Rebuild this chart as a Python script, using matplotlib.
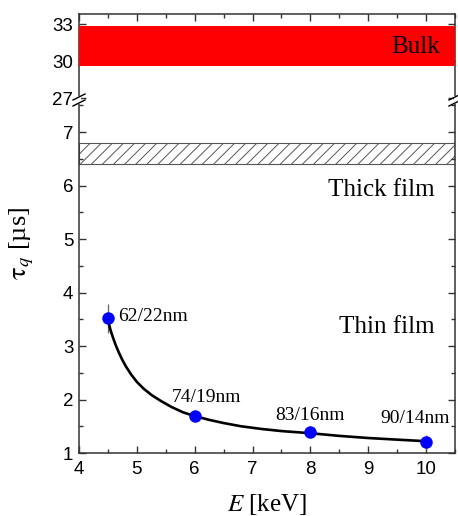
import matplotlib
matplotlib.use("Agg")
import matplotlib.pyplot as plt
from matplotlib.ticker import MultipleLocator, FixedLocator
from matplotlib.lines import Line2D
from matplotlib.patches import Rectangle

plt.rcParams["mathtext.fontset"] = "stix"
plt.rcParams["hatch.color"] = "#555555"
plt.rcParams["hatch.linewidth"] = 0.7

# ---- data ----
energy = [4.5, 6.0, 8.0, 10.0]
tau = [3.52, 1.69, 1.39, 1.20]
tau_err = [0.27, 0.05, 0.05, 0.14]
point_labels = ["62/22nm", "74/19nm", "83/16nm", "90/14nm"]
label_pos_x = [4.68, 5.60, 7.39, 9.21]
label_pos_y = [3.55, 2.04, 1.71, 1.65]

fit_energy = [4.5, 4.52, 4.55, 4.59, 4.63, 4.68, 4.74, 4.81, 4.9, 5.0,
              5.12, 5.26, 5.42, 5.6, 5.8, 6.0, 6.25, 6.5, 6.8, 7.15,
              7.5, 8.0, 8.5, 9.0, 9.5, 10.0]
fit_tau = [3.48, 3.40, 3.28, 3.15, 3.03, 2.90, 2.76, 2.62, 2.47, 2.33,
           2.20, 2.08, 1.97, 1.86, 1.76, 1.69, 1.62, 1.56, 1.50, 1.45,
           1.41, 1.37, 1.32, 1.28, 1.25, 1.22]

bulk_band = (29.6, 32.9)
thick_band = (6.4, 6.8)

upper_ticks = [27, 30, 33]
lower_ticks = [1, 2, 3, 4, 5, 6, 7]
x_ticks = [4, 5, 6, 7, 8, 9, 10]

# ---- figure ----
W, H = 458, 516
fig = plt.figure(figsize=(W / 100, H / 100), dpi=100)
left, right = 79 / W, 455 / W
y_break = 1 - 100 / H
y_top = 1 - 14 / H
y_bot = 1 - 453 / H

ax_u = fig.add_axes([left, y_break, right - left, y_top - y_break])
ax_l = fig.add_axes([left, y_bot, right - left, y_break - y_bot])

spine_col = "#333333"
serif = "Liberation Serif"

for ax in (ax_u, ax_l):
    ax.set_xlim(4, 10.5)
    for s in ax.spines.values():
        s.set_color(spine_col)
        s.set_linewidth(1.1)
    ax.xaxis.set_major_locator(FixedLocator(x_ticks))
    ax.xaxis.set_minor_locator(MultipleLocator(0.5))
    ax.tick_params(which="both", direction="in", color=spine_col, width=1.0,
                   left=True, right=True, labelsize=13.5)
    ax.tick_params(which="major", length=5)
    ax.tick_params(which="minor", length=3)

ax_u.spines["bottom"].set_visible(False)
ax_l.spines["top"].set_visible(False)
ax_u.tick_params(axis="x", which="both", bottom=False, top=True,
                 labelbottom=False, labeltop=False)
ax_l.tick_params(axis="x", which="both", bottom=True, top=False, pad=6)
ax_u.tick_params(axis="y", pad=4)
ax_l.tick_params(axis="y", pad=4)

# upper axis
ax_u.set_ylim(26.85, 33.85)
ax_u.yaxis.set_major_locator(FixedLocator(upper_ticks))
ax_u.yaxis.set_minor_locator(FixedLocator([]))
ax_u.axhspan(bulk_band[0], bulk_band[1], color="#ff0000", lw=0, zorder=3)
ax_u.text(10.23, 31.2, "Bulk", ha="right", va="center",
          family=serif, fontsize=18, zorder=4)

# lower axis
ax_l.set_ylim(1, 7.6)
ax_l.yaxis.set_major_locator(FixedLocator(lower_ticks))
ax_l.yaxis.set_minor_locator(MultipleLocator(0.5))
ax_l.axhspan(thick_band[0], thick_band[1], facecolor="white", edgecolor="#555555",
             hatch="///", lw=0.8, zorder=1)

ax_l.plot(fit_energy, fit_tau, color="black", lw=1.9, zorder=3,
          solid_joinstyle="round")
ax_l.errorbar(energy, tau, yerr=tau_err, fmt="none", ecolor="#666666",
              elinewidth=0.9, capsize=0, zorder=2)
ax_l.plot(energy, tau, "o", color="#0000ff", markersize=9, zorder=4,
          markeredgewidth=0)
for lx, ly, t in zip(label_pos_x, label_pos_y, point_labels):
    ax_l.text(lx, ly, t, ha="left", va="center", family=serif, fontsize=14)

ax_l.text(10.14, 5.92, "Thick film", ha="right", va="center",
          family=serif, fontsize=18)
ax_l.text(10.14, 3.36, "Thin film", ha="right", va="center",
          family=serif, fontsize=18)

for ax in (ax_u, ax_l):
    for lab in ax.get_xticklabels() + ax.get_yticklabels():
        lab.set_family("Liberation Sans")

ax_l.set_xlabel(r"$E$ [keV]", family=serif, fontsize=18, labelpad=10)

fig.text(22 / W, 1 - 243 / H, r"$\mathrm{\tau}_{q}$ [µs]", rotation=90,
         ha="center", va="center", family=serif, fontsize=19)

# break marks
def px(x, y):
    return (x / W, 1 - y / H)

for xc in (79, 455):
    x0, y0 = px(xc - 1.5, 96)
    x1, y1 = px(xc + 1.5, 104)
    fig.add_artist(Rectangle((x0, y1), x1 - x0, y0 - y1,
                             transform=fig.transFigure, facecolor="white",
                             edgecolor="none", zorder=10))
    for dy in (-3, 3):
        xa, ya = px(xc - 6, 100 + dy + 3)
        xb, yb = px(xc + 6, 100 + dy - 3)
        fig.add_artist(Line2D([xa, xb], [ya, yb], transform=fig.transFigure,
                              color="black", lw=1.0, zorder=11))

fig.savefig("out.png", dpi=100)
